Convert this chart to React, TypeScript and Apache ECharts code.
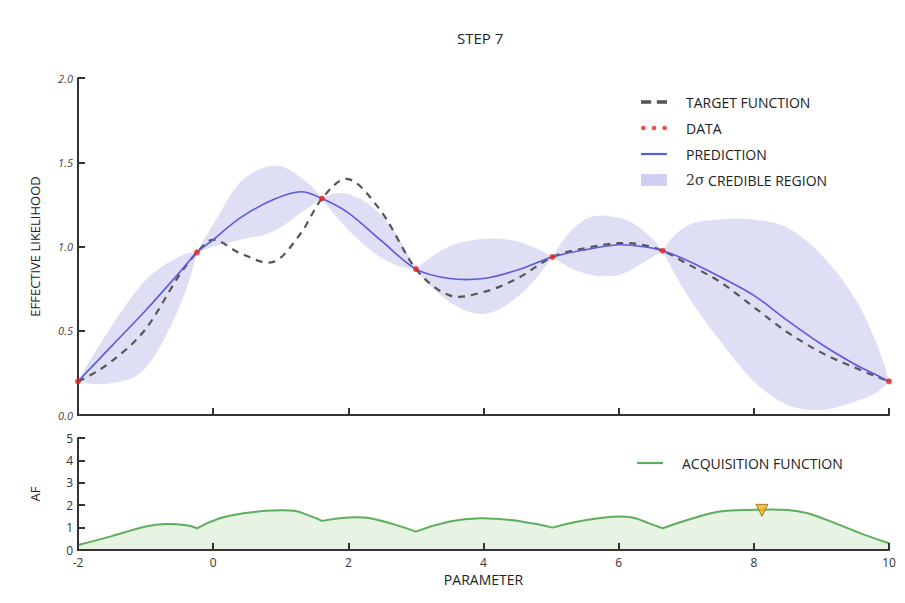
import React, { useEffect, useRef } from 'react';
import * as echarts from 'echarts';

// ---- Gaussian-process panel (top) ----
const GP_X = [-2, -1.5, -1, -0.5, -0.24, 0, 0.4, 0.9, 1.3, 1.61, 2, 2.5, 3, 3.5, 4, 4.5, 5.02, 5.5, 6, 6.35, 6.65, 7, 7.5, 8, 8.5, 9, 9.5, 9.8, 10];
const TARGET = [0.2, 0.32, 0.51, 0.83, 0.965, 1.04, 0.96, 0.91, 1.08, 1.285, 1.4, 1.2, 0.866, 0.71, 0.73, 0.81, 0.938, 0.99, 1.02, 1.01, 0.975, 0.9, 0.79, 0.64, 0.49, 0.37, 0.28, 0.23, 0.2];
const MEAN = [0.2, 0.41, 0.62, 0.845, 0.965, 1.04, 1.17, 1.28, 1.325, 1.285, 1.2, 1.03, 0.866, 0.81, 0.81, 0.86, 0.938, 0.98, 1.01, 1.0, 0.975, 0.92, 0.82, 0.71, 0.56, 0.42, 0.3, 0.24, 0.2];
const UPPER = [0.2, 0.53, 0.8, 0.94, 0.965, 1.13, 1.38, 1.48, 1.41, 1.285, 1.31, 1.18, 0.866, 1.0, 1.045, 1.03, 0.938, 1.16, 1.17, 1.1, 0.975, 1.12, 1.16, 1.16, 1.11, 0.95, 0.69, 0.44, 0.2];
const LOWER = [0.2, 0.19, 0.28, 0.64, 0.965, 1.0, 1.04, 1.09, 1.2, 1.285, 1.1, 0.93, 0.866, 0.67, 0.6, 0.7, 0.938, 0.84, 0.83, 0.9, 0.975, 0.72, 0.44, 0.2, 0.06, 0.03, 0.08, 0.13, 0.2];
const DATA_X = [-2, -0.24, 1.61, 3.0, 5.02, 6.65, 10];
const DATA_Y = [0.2, 0.965, 1.285, 0.866, 0.938, 0.975, 0.2];

// ---- Acquisition panel (bottom) ----
const AF_X = [-2, -1.5, -1, -0.7, -0.4, -0.24, 0.1, 0.45, 0.85, 1.2, 1.45, 1.61, 2.0, 2.3, 2.7, 3.0, 3.5, 3.95, 4.4, 4.8, 5.02, 5.4, 5.9, 6.2, 6.45, 6.65, 7.1, 7.5, 7.95, 8.5, 8.8, 9.2, 9.6, 10];
const AF_Y = [0.22, 0.62, 1.05, 1.16, 1.1, 0.97, 1.42, 1.64, 1.76, 1.75, 1.5, 1.3, 1.45, 1.43, 1.12, 0.82, 1.27, 1.42, 1.34, 1.15, 1.0, 1.27, 1.48, 1.45, 1.19, 0.97, 1.42, 1.72, 1.79, 1.79, 1.64, 1.2, 0.72, 0.3];
const NEXT_X = [8.12];
const NEXT_Y = [1.77];

// ---- axes / text ----
const X_MIN = -2, X_MAX = 10, X_STEP = 2;
const Y1_MIN = 0, Y1_MAX = 2, Y1_STEP = 0.5;
const Y2_MIN = 0, Y2_MAX = 5, Y2_STEP = 1;
const TITLE = 'STEP 7';
const Y1_NAME = 'EFFECTIVE LIKELIHOOD';
const Y2_NAME = 'AF';
const X_NAME = 'PARAMETER';
const S_TARGET = 'TARGET FUNCTION';
const S_DATA = 'DATA';
const S_PRED = 'PREDICTION';
const S_BAND = '2σ CREDIBLE REGION';
const S_AF = 'ACQUISITION FUNCTION';

const zip = (xs: number[], ys: number[]) => xs.map((x, i) => [x, ys[i]]);

const FONT = 'Open Sans';
const AXIS_COLOR = '#333';
const BAND = '#dedef5';
const PRED_COLOR = '#5a5ae0';
const AF_COLOR = '#5dae5d';

type P = number[];
type Seg = [P, P, P, P];

// Piecewise cubic Hermite through pixel points; "breaks" mark corners.
function hermite(pts: P[], breaks: boolean[]): Seg[] {
  const n = pts.length;
  const isB = (i: number) => i === 0 || i === n - 1 || breaks[i];
  const sl = (a: P, b: P) => (b[1] - a[1]) / (b[0] - a[0]);
  const sL: number[] = new Array(n).fill(0);
  const sR: number[] = new Array(n).fill(0);
  for (let i = 1; i < n - 1; i++) {
    if (!isB(i)) { const s = sl(pts[i - 1], pts[i + 1]); sL[i] = s; sR[i] = s; }
  }
  for (let i = 0; i < n; i++) {
    if (!isB(i)) continue;
    if (i < n - 1) {
      const sec = sl(pts[i], pts[i + 1]);
      const nb = !isB(i + 1) ? sL[i + 1] : sec;
      sR[i] = 2 * sec - nb;
    }
    if (i > 0) {
      const sec = sl(pts[i - 1], pts[i]);
      const nb = !isB(i - 1) ? sR[i - 1] : sec;
      sL[i] = 2 * sec - nb;
    }
  }
  const segs: Seg[] = [];
  for (let i = 0; i < n - 1; i++) {
    const a = pts[i], b = pts[i + 1];
    const h = b[0] - a[0];
    segs.push([a, [a[0] + h / 3, a[1] + (sR[i] * h) / 3], [b[0] - h / 3, b[1] - (sL[i + 1] * h) / 3], b]);
  }
  return segs;
}
const f = (v: number) => v.toFixed(2);
const segPath = (segs: Seg[], move: boolean) =>
  (move ? `M${f(segs[0][0][0])} ${f(segs[0][0][1])}` : `L${f(segs[0][0][0])} ${f(segs[0][0][1])}`) +
  segs.map((s) => `C${f(s[1][0])} ${f(s[1][1])} ${f(s[2][0])} ${f(s[2][1])} ${f(s[3][0])} ${f(s[3][1])}`).join('');
const reverseSegs = (segs: Seg[]): Seg[] => segs.slice().reverse().map((s) => [s[3], s[2], s[1], s[0]] as Seg);

export default function App() {
  const ref = useRef<HTMLDivElement>(null);
  useEffect(() => {
    if (!ref.current) return;
    const chart = echarts.init(ref.current, null, { renderer: 'svg' });
    const axisLine = { show: true, onZero: false, lineStyle: { color: AXIS_COLOR, width: 2 } };
    const axisTick = { show: true, inside: true, length: 7, lineStyle: { color: AXIS_COLOR, width: 2 } };
    const dashIcon = 'path://M0,0h9v3H0zM14,0h9v3h-9z';
    const barIcon = 'path://M0,0h24v2H0z';
    const dotsIcon = 'path://M0,2a2,2 0 1,0 4,0a2,2 0 1,0 -4,0zM9,2a2,2 0 1,0 4,0a2,2 0 1,0 -4,0zM18,2a2,2 0 1,0 4,0a2,2 0 1,0 -4,0z';
    const legendText = { fontFamily: FONT, fontSize: 14, color: '#222', padding: [0, 0, 0, 14], rich: { m: { fontFamily: 'DejaVu Serif', fontSize: 14, color: '#333' } } };

    const noBreaks = GP_X.map(() => false);
    const linePath = (ys: number[], api: any) =>
      segPath(hermite(GP_X.map((x, i) => api.coord([x, ys[i]])), noBreaks), true);

    const bandRender = (params: any, api: any) => {
      if (params.dataIndex !== 0) return null;
      const pinch = GP_X.map((_, i) => UPPER[i] === LOWER[i]);
      let d = '';
      let start = 0;
      for (let i = 1; i < GP_X.length; i++) {
        if (!pinch[i] && i !== GP_X.length - 1) continue;
        const idx: number[] = [];
        for (let k = start; k <= i; k++) idx.push(k);
        const up = idx.map((k) => api.coord([GP_X[k], UPPER[k]]));
        const lo = idx.map((k) => api.coord([GP_X[k], LOWER[k]]));
        const brk = idx.map(() => false);
        d += segPath(hermite(up, brk), true) + segPath(reverseSegs(hermite(lo, brk)), false) + 'Z';
        start = i;
      }
      return { type: 'path', shape: { pathData: d }, style: { fill: BAND, stroke: null } };
    };

    const afRender = (params: any, api: any) => {
      if (params.dataIndex !== 0) return null;
      const pts = AF_X.map((x, i) => api.coord([x, AF_Y[i]]));
      const brk = AF_X.map((x) => DATA_X.indexOf(x) >= 0);
      const segs = hermite(pts, brk);
      const line = segPath(segs, true);
      const b0 = api.coord([AF_X[AF_X.length - 1], Y2_MIN]);
      const b1 = api.coord([AF_X[0], Y2_MIN]);
      const area = line + `L${f(b0[0])} ${f(b0[1])}L${f(b1[0])} ${f(b1[1])}Z`;
      return {
        type: 'group',
        children: [
          { type: 'path', shape: { pathData: area }, style: { fill: '#e7f3e3', stroke: null } },
          { type: 'path', shape: { pathData: line }, style: { fill: null, stroke: AF_COLOR, lineWidth: 2 } },
        ],
      };
    };

    chart.setOption({
      animation: false,
      backgroundColor: '#fff',
      textStyle: { fontFamily: FONT },
      title: { text: TITLE, left: 452, top: 25, textStyle: { fontFamily: FONT, fontSize: 15, fontWeight: 'normal', color: '#222' } },
      grid: [
        { left: 78, top: 78, width: 811, height: 337 },
        { left: 78, top: 438, width: 811, height: 112 },
      ],
      legend: [
        {
          orient: 'vertical', left: 636, top: 90, itemWidth: 26, itemHeight: 12, itemGap: 12,
          data: [
            { name: S_TARGET, icon: dashIcon, itemStyle: { color: '#555' } },
            { name: S_DATA, icon: dotsIcon, itemStyle: { color: '#e8201c' } },
            { name: S_PRED, icon: barIcon, itemStyle: { color: PRED_COLOR } },
            { name: S_BAND, icon: 'rect', itemStyle: { color: '#d0d0f2' } },
          ],
          formatter: (n: string) => (n === S_BAND ? '{m|2σ} CREDIBLE REGION' : n),
          textStyle: legendText,
        },
        {
          orient: 'vertical', left: 632, top: 451, itemWidth: 26, itemHeight: 12,
          data: [{ name: S_AF, icon: barIcon, itemStyle: { color: AF_COLOR } }],
          textStyle: legendText,
        },
      ],
      xAxis: [
        {
          type: 'value', gridIndex: 0, min: X_MIN, max: X_MAX, interval: X_STEP, z: 5,
          axisLine, axisTick, axisLabel: { show: false }, splitLine: { show: false },
        },
        {
          type: 'value', gridIndex: 1, min: X_MIN, max: X_MAX, interval: X_STEP, z: 5,
          axisLine, axisTick, splitLine: { show: false },
          axisLabel: { fontFamily: FONT, fontSize: 12, color: '#333', margin: 6 },
          name: X_NAME, nameLocation: 'middle', nameGap: 22,
          nameTextStyle: { fontFamily: FONT, fontSize: 14, color: '#222' },
        },
      ],
      yAxis: [
        {
          type: 'value', gridIndex: 0, min: Y1_MIN, max: Y1_MAX, interval: Y1_STEP, z: 5,
          axisLine, axisTick, splitLine: { show: false },
          axisLabel: { formatter: (v: number) => v.toFixed(1), fontFamily: FONT, fontSize: 11, fontStyle: 'italic', color: '#444', margin: 5 },
          name: Y1_NAME, nameLocation: 'middle', nameGap: 37,
          nameTextStyle: { fontFamily: FONT, fontSize: 13, color: '#222' },
        },
        {
          type: 'value', gridIndex: 1, min: Y2_MIN, max: Y2_MAX, interval: Y2_STEP, z: 5,
          axisLine, axisTick, splitLine: { show: false },
          axisLabel: { fontFamily: FONT, fontSize: 12, color: '#333', margin: 5 },
          name: Y2_NAME, nameLocation: 'middle', nameGap: 37,
          nameTextStyle: { fontFamily: FONT, fontSize: 13, color: '#222' },
        },
      ],
      series: [
        {
          name: S_BAND, type: 'custom', xAxisIndex: 0, yAxisIndex: 0, z: 1, silent: true,
          data: zip(GP_X, MEAN), encode: { x: 0, y: 1 }, renderItem: bandRender,
          itemStyle: { color: '#d0d0f2' },
        },
        {
          name: S_TARGET, type: 'custom', xAxisIndex: 0, yAxisIndex: 0, z: 3, silent: true,
          data: zip(GP_X, TARGET), encode: { x: 0, y: 1 }, itemStyle: { color: '#555' },
          renderItem: (params: any, api: any) =>
            params.dataIndex !== 0 ? null : {
              type: 'path', shape: { pathData: linePath(TARGET, api) },
              style: { fill: null, stroke: '#555', lineWidth: 2.2, lineDash: [7, 6] },
            },
        },
        {
          name: S_PRED, type: 'custom', xAxisIndex: 0, yAxisIndex: 0, z: 4, silent: true,
          data: zip(GP_X, MEAN), encode: { x: 0, y: 1 }, itemStyle: { color: PRED_COLOR },
          renderItem: (params: any, api: any) =>
            params.dataIndex !== 0 ? null : {
              type: 'path', shape: { pathData: linePath(MEAN, api) },
              style: { fill: null, stroke: PRED_COLOR, lineWidth: 1.6 },
            },
        },
        {
          name: S_DATA, type: 'scatter', xAxisIndex: 0, yAxisIndex: 0, data: zip(DATA_X, DATA_Y),
          symbolSize: 6, z: 6, itemStyle: { color: '#e8201c' },
        },
        {
          name: S_AF, type: 'custom', xAxisIndex: 1, yAxisIndex: 1, z: 3, silent: true,
          data: zip(AF_X, AF_Y), encode: { x: 0, y: 1 }, itemStyle: { color: AF_COLOR },
          renderItem: afRender,
        },
        {
          name: 'next', type: 'scatter', xAxisIndex: 1, yAxisIndex: 1, data: zip(NEXT_X, NEXT_Y),
          symbol: 'triangle', symbolRotate: 180, symbolSize: 12, z: 6,
          itemStyle: { color: '#f2b21c', borderColor: '#8a6a10', borderWidth: 1 },
        },
      ],
    });
    return () => chart.dispose();
  }, []);
  return <div ref={ref} style={{ position: 'fixed', left: 0, top: 0, width: 905, height: 603, background: '#fff' }} />;
}
